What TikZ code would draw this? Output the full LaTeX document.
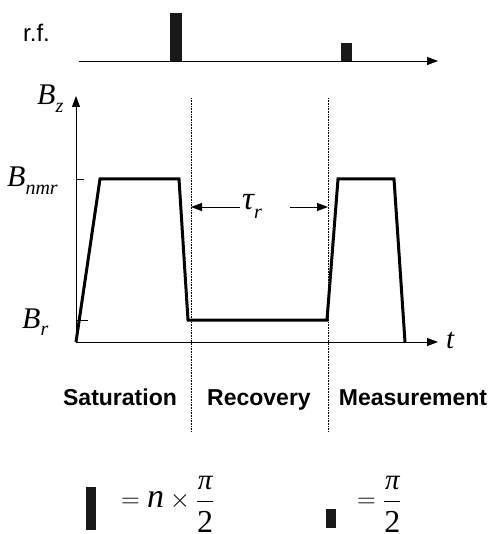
\documentclass[tikz,border=0pt]{standalone}
\usepackage{fix-cm}
\usepackage{fontspec}
\setsansfont{Liberation Sans}
\newfontfamily\tms{Liberation Serif}
\usetikzlibrary{arrows.meta}
\newcommand{\sym}[2]{{\tms\itshape #1\raisebox{-0.25em}{\fontsize{20}{22}\selectfont #2}}}
\newcommand{\ital}[2]{\mbox{\fontsize{#1}{#1}\tms\itshape #2}}
\tikzset{
  axis/.style={line width=0.8pt, -{Triangle[length=11pt,width=8pt]}},
  pulse/.style={fill=black!90},
  field/.style={line width=3pt, line join=miter},
  divider/.style={densely dotted, line width=0.6pt},
  phase/.style={font=\sffamily\bfseries\fontsize{23}{27}\selectfont, anchor=base},
  lbl/.style={font=\fontsize{30}{32}\selectfont, anchor=base west, inner sep=0pt}
}
\begin{document}
\begin{tikzpicture}[x=1pt,y=-1pt]
\useasboundingbox (0,0) rectangle (492,534);
% r.f. line with pulses
\node[anchor=base west, inner sep=0pt, font=\sffamily\fontsize{24}{28}\selectfont] (rf) at (23,42) {r.f.};
\coordinate (rfs) at (79,61);
\coordinate (rfe) at (438,61);
\draw[axis] (rfs) -- (rfe);
\fill[pulse] (170,13) rectangle (182,61);
\fill[pulse] (341,43) rectangle (352,61);
% axes
\coordinate (o) at (76,342);
\coordinate (ztop) at (76,96);
\coordinate (tend) at (438,342);
\draw[axis] (o) -- (ztop);
\draw[axis] (o) -- (tend);
\node[lbl] (bz) at (37,105) {\sym{B}{z}};
\node[lbl] (bnmr) at (7,187) {\sym{B}{nmr}};
\node[lbl] (br) at (22,328) {\sym{B}{r}};
\node[lbl, font=\fontsize{29}{30}\selectfont] (t) at (446,348) {\sym{t}{}};
\draw[line width=0.8pt] (76,179) -- (84,179);
\draw[line width=0.8pt] (76,320) -- (88,320);
% phase boundaries
\foreach \x in {191,328} {
  \draw[divider] (\x,98) -- (\x,432);
}
% field cycle
\draw[field] (o) -- (100,179) -- (179,179) -- (188,320) -- (327,320)
  -- (338,179) -- (394,179) -- (405,342);
% recovery time
\node[lbl, font=\fontsize{33}{35}\selectfont] (tau) at (242,210) {\sym{τ}{r}};
\coordinate (tl) at (240,207);
\coordinate (tr) at (290,207);
\draw[axis] (tl) -- (191,207);
\draw[axis] (tr) -- (328,207);
% phases
\node[phase] (sat) at (120,405) {Saturation};
\node[phase] (rec) at (259,405) {Recovery};
\node[phase] (meas) at (413,405) {Measurement};
% legend
\fill[pulse] (86,487) rectangle (96,530);
\node[lbl, font=\fontsize{26}{30}\selectfont] (big) at (121,507.5) {$\displaystyle =\ital{34}{n}\times\frac{\ital{29}{π}}{\raisebox{-7pt}{\ital{32}{\upshape 2}}}$};
\fill[pulse] (326,509) rectangle (336,528);
\node[lbl, font=\fontsize{26}{30}\selectfont] (small) at (357,507.5) {$\displaystyle =\frac{\ital{29}{π}}{\raisebox{-7pt}{\ital{32}{\upshape 2}}}$};
\end{tikzpicture}
\end{document}
